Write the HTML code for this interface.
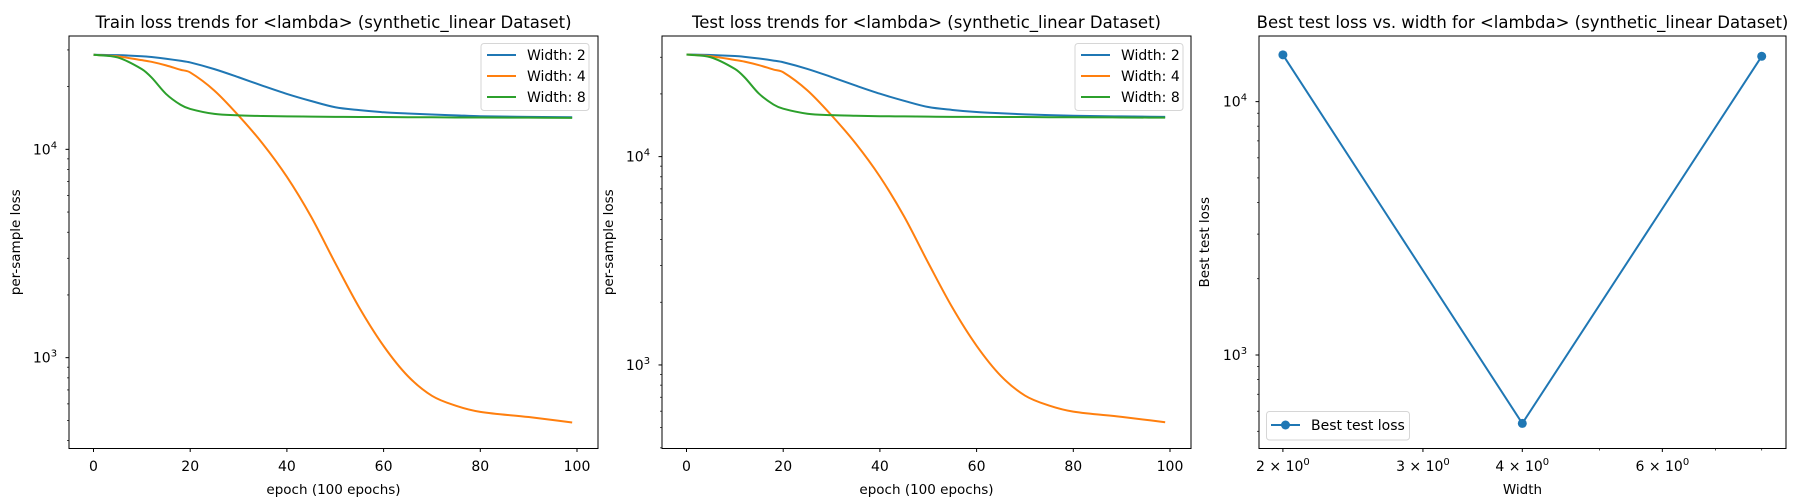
<!DOCTYPE html>
<html><head><meta charset="utf-8"><style>
body{margin:0;background:#fff;}
svg{display:block;font-family:"DejaVu Sans","Liberation Sans",sans-serif;}
</style></head><body>
<svg id="fig" width="1800" height="500" viewBox="0 0 1800 500" xmlns="http://www.w3.org/2000/svg"></svg>
<script>
const epochs=[0,5,10,12,15,18,20,25,30,35,40,45,50,55,60,65,70,75,80,90,99];
const trainW2=[4.454,4.452,4.447,4.443,4.435,4.425,4.417,4.385,4.346,4.305,4.266,4.232,4.202,4.188,4.178,4.172,4.167,4.163,4.159,4.156,4.154];
const trainW4=[4.454,4.446,4.428,4.420,4.403,4.382,4.369,4.282,4.162,4.027,3.868,3.677,3.454,3.239,3.056,2.912,2.817,2.769,2.740,2.715,2.689];
const trainW8=[4.454,4.441,4.385,4.345,4.266,4.214,4.194,4.170,4.163,4.160,4.158,4.157,4.156,4.155,4.155,4.154,4.154,4.153,4.153,4.152,4.151];
const testW2=[4.490,4.488,4.483,4.479,4.471,4.461,4.453,4.421,4.382,4.341,4.302,4.268,4.238,4.224,4.214,4.208,4.203,4.199,4.196,4.193,4.191];
const testW4=[4.490,4.482,4.464,4.456,4.439,4.418,4.405,4.318,4.198,4.063,3.904,3.713,3.490,3.275,3.092,2.948,2.853,2.805,2.776,2.751,2.725];
const testW8=[4.490,4.477,4.421,4.381,4.302,4.250,4.230,4.206,4.199,4.196,4.194,4.193,4.192,4.191,4.191,4.190,4.190,4.189,4.189,4.188,4.187];
const widths=[2,4,8];
const bestLoss=[15300,537,15100];
const C=['#1f77b4','#ff7f0e','#2ca02c'];
const NS='http://www.w3.org/2000/svg';
const svg=document.getElementById('fig');
function mk(tag,attrs,parent){const e=document.createElementNS(NS,tag);for(const k in attrs)e.setAttribute(k,attrs[k]);(parent||svg).appendChild(e);return e;}
function txt(s,attrs,parent){const t=mk('text',attrs,parent);t.textContent=s;return t;}
function sup(t,base,exp){t.textContent='';const a=document.createElementNS(NS,'tspan');a.textContent=base;t.appendChild(a);const b=document.createElementNS(NS,'tspan');b.setAttribute('dy','-6');b.setAttribute('font-size','10');b.textContent=exp;t.appendChild(b);}
function smooth(pts){
  let d='M'+pts[0][0]+','+pts[0][1];
  for(let i=0;i<pts.length-1;i++){
    const p0=pts[Math.max(0,i-1)],p1=pts[i],p2=pts[i+1],p3=pts[Math.min(pts.length-1,i+2)];
    const t1=(p2[0]-p1[0])/(p2[0]-p0[0]||1),t2=(p2[0]-p1[0])/(p3[0]-p1[0]||1);
    const c1=[p1[0]+(p2[0]-p0[0])*t1/3,p1[1]+(p2[1]-p0[1])*t1/3];
    const c2=[p2[0]-(p3[0]-p1[0])*t2/3,p2[1]-(p3[1]-p1[1])*t2/3];
    d+=` C${c1[0]},${c1[1]} ${c2[0]},${c2[1]} ${p2[0]},${p2[1]}`;
  }
  return d;
}

function panel(box,title,ylabel,xlabel,ylog0,ylog1,opts){
  const g=mk('g',{});
  
  
  const [L,T,R,B]=box;
  const ys=v=>B-(v-ylog0)/(ylog1-ylog0)*(B-T);
  for(let e=Math.floor(ylog0);e<=Math.ceil(ylog1);e++){
    for(let m=1;m<10;m++){
      const lv=e+Math.log10(m);
      if(lv<ylog0||lv>ylog1)continue;
      const y=ys(lv);
      mk('line',{x1:L,x2:L-(m===1?3.5:2),y1:y,y2:y,stroke:'#000','stroke-width':m===1?1:0.7},g);
      if(m===1){const t=txt('',{x:L-24,y:y+5,'font-size':14,'text-anchor':'middle'},g);sup(t,'10',String(e));
        }
    }
  }
  const yl=txt(ylabel,{x:0,y:0,'font-size':13.5,'text-anchor':'middle',transform:`translate(${opts.ylx},${(T+B)/2}) rotate(-90)`},g);
  
  const xl=txt(xlabel,{x:(L+R)/2,y:494,'font-size':13.5,'text-anchor':'middle'},g);
  
  const tt=txt(title,{x:(L+R)/2,y:28,'font-size':16.5,'text-anchor':'middle'},g);
  
  return {g,ys};
}

function linePanel(L,R,title,ylog0,ylog1,series,legendX,name){
  const T=36,B=448.5;
  const p=panel([L,T,R,B],title,'per-sample loss','epoch (100 epochs)',ylog0,ylog1,{ylx:L-49,name});
  const xs=v=>L+24.5+v*4.835;
  [0,20,40,60,80,100].forEach(v=>{const x=xs(v);mk('line',{x1:x,x2:x,y1:B,y2:B+3.5,stroke:'#000'},p.g);
    const t=txt(String(v),{x:x,y:471,'font-size':14,'text-anchor':'middle'},p.g);});
  const clip='c'+name;const cp=mk('clipPath',{id:clip},p.g);mk('rect',{x:L,y:T,width:R-L,height:B-T},cp);
  series.forEach((s,i)=>{const pl=mk('path',{d:smooth(epochs.map((e,k)=>[xs(e),p.ys(s[k])])),fill:'none',stroke:C[i],'stroke-width':2,'stroke-linejoin':'round','clip-path':`url(#${clip})`},p.g);
    });
  const lg=mk('g',{},p.g);
  mk('rect',{x:legendX,y:43.5,width:108,height:67,rx:3,fill:'#fff',stroke:'#ccc','stroke-opacity':0.8},lg);
  widths.forEach((w,i)=>{const y=55+i*21;mk('line',{x1:legendX+6,x2:legendX+35,y1:y,y2:y,stroke:C[i],'stroke-width':2},lg);
    const t=txt('Width: '+w,{x:legendX+46,y:y+5,'font-size':14},lg);});
  mk('rect',{x:L,y:T,width:R-L,height:B-T,fill:'none',stroke:'#000','stroke-width':1},p.g);
}
linePanel(69,598,'Train loss trends for <lambda> (synthetic_linear Dataset)',2.564,4.544,[trainW2,trainW4,trainW8],481,'train-panel');
linePanel(662,1191,'Test loss trends for <lambda> (synthetic_linear Dataset)',2.599,4.579,[testW2,testW4,testW8],1075,'test-panel');

(function(){
  const L=1259,R=1786,T=36,B=448.5;
  const p=panel([L,T,R,B],'Best test loss vs. width for <lambda> (synthetic_linear Dataset)','Best test loss','Width',2.631,4.259,{ylx:1209,name:'best-panel'});
  const xs=v=>1282.9+(Math.log2(v)-1)*239.4;
  [2,3,4,5,6,7,8].forEach(v=>{const x=xs(v);if(x>R)return;const major=[2,3,4,6].includes(v);
    mk('line',{x1:x,x2:x,y1:B,y2:B+(major?3.5:2),stroke:'#000','stroke-width':major?1:0.7},p.g);
    if(major){const t=txt('',{x:x,y:471,'font-size':14,'text-anchor':'middle'},p.g);sup(t,v+' \u00d7 10','0');
      }});
  const pl=mk('polyline',{points:widths.map((w,i)=>xs(w)+','+p.ys(Math.log10(bestLoss[i]))).join(' '),fill:'none',stroke:C[0],'stroke-width':2},p.g);
  
  widths.forEach((w,i)=>{const c=mk('circle',{cx:xs(w),cy:p.ys(Math.log10(bestLoss[i])),r:4.5,fill:C[0]},p.g);
    });
  const lg=mk('g',{},p.g);
  mk('rect',{x:1266.5,y:411.5,width:143,height:28.5,rx:3,fill:'#fff',stroke:'#ccc','stroke-opacity':0.8},lg);
  mk('line',{x1:1271,x2:1300,y1:425,y2:425,stroke:C[0],'stroke-width':2},lg);
  mk('circle',{cx:1285.5,cy:425,r:4.5,fill:C[0]},lg);
  const t=txt('Best test loss',{x:1311,y:430,'font-size':14},lg);
  mk('rect',{x:L,y:T,width:R-L,height:B-T,fill:'none',stroke:'#000','stroke-width':1},p.g);
})();
</script>
</body></html>
